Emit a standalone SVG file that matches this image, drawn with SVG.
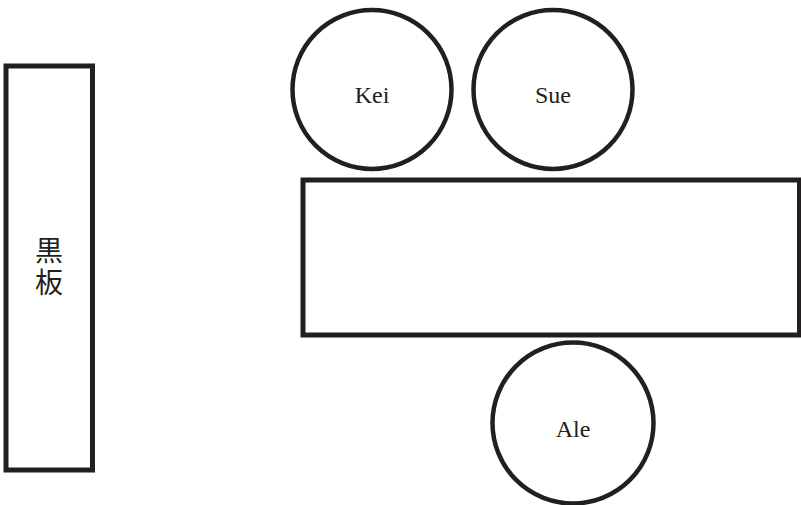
<svg xmlns="http://www.w3.org/2000/svg" width="801" height="505" viewBox="0 0 801 505">
  <style>
    .shape { fill: #ffffff; stroke: #231f20; stroke-width: 5; }
    .seat { fill: #ffffff; stroke: #231f20; stroke-width: 4.5; }
    .name { font-family: "Liberation Serif", "Times New Roman", serif; font-size: 24px; fill: #231f20; text-anchor: middle; }
    .board { font-family: "Noto Sans CJK JP", sans-serif; font-size: 28px; fill: #231f20; writing-mode: vertical-rl; letter-spacing: 4px; }
  </style>
  <rect width="801" height="505" fill="#ffffff"/>
  <!-- blackboard, label set vertically -->
  <g id="blackboard">
    <rect class="shape" x="6" y="66" width="86.5" height="404"/>
    <text class="board" x="49" y="236">黒板</text>
  </g>
  <!-- table -->
  <g id="table">
    <rect class="shape" x="303" y="180" width="496.5" height="155"/>
  </g>
  <!-- seats -->
  <g id="kei">
    <circle class="seat" cx="372" cy="89.5" r="79.5"/>
    <text class="name" x="372" y="102.5">Kei</text>
  </g>
  <g id="sue">
    <circle class="seat" cx="553" cy="89.5" r="79.5"/>
    <text class="name" x="553" y="102.5">Sue</text>
  </g>
  <g id="ale">
    <circle class="seat" cx="573" cy="423" r="80.5"/>
    <text class="name" x="573" y="437">Ale</text>
  </g>
  <g id="connectors"/>
</svg>
